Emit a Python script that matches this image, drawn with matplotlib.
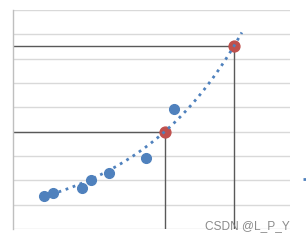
import numpy as np
import matplotlib
matplotlib.use("Agg")
from matplotlib import pyplot as plt

# --- data ---
x_obs = [1.13, 1.46, 2.48, 2.81, 3.47, 4.80, 5.81]
y_obs = [1.37, 1.49, 1.70, 2.01, 2.31, 2.93, 4.93]

x_pred = [5.48, 7.99]
y_pred = [4.00, 7.53]

# exponential trendline y = a * exp(b * x)
trend_a = 1.005
trend_b = 0.252
trend_x = [1.13, 8.27]

yticks = [0, 1, 2, 3, 4, 5, 6, 7, 8, 9]

BLUE = "#4F81BD"
RED = "#C0504D"
DARK = "#595959"

# ---------------------------------------------------------
fig = plt.figure(figsize=(3.06, 2.40), dpi=100)
ax = fig.add_axes([13 / 306, 11 / 240, 276.7 / 306, 219 / 240])

ax.set_xlim(0, 10)
ax.set_ylim(0, 9)
ax.set_yticks(yticks)
ax.set_xticks([])
ax.tick_params(left=False, labelleft=False)
ax.grid(axis="y", color="#D9D9D9", linewidth=1.0)
ax.set_axisbelow(True)
for side in ("top", "right", "bottom"):
    ax.spines[side].set_visible(False)
ax.spines["left"].set_color("#BFBFBF")
ax.spines["left"].set_linewidth(1.0)

# guide lines from predicted points to the axes
for xp, yp in zip(x_pred, y_pred):
    ax.plot([0, xp, xp], [yp, yp, 0], color=DARK, linewidth=1.0, zorder=2)

ax.plot(x_obs, y_obs, "o", color=BLUE, markersize=7.0, zorder=3)
ax.plot(x_pred, y_pred, "o", color=RED, markersize=7.8, zorder=3)

tx = np.linspace(trend_x[0], trend_x[1], 200)
trend, = ax.plot(tx, trend_a * np.exp(trend_b * tx), color=BLUE,
                 linewidth=2.0, linestyle=(0, (1, 1.7)), zorder=4)

# clipped legend: only the handle shows at the right edge
fig.legend([trend], [" "], loc="center left", frameon=False,
           bbox_to_anchor=(296 / 306, 60 / 240), handlelength=0.5,
           borderpad=0, handletextpad=0.2)

fig.text(205 / 306, 11 / 240, "CSDN @L_P_Y", fontsize=8.6,
         family="Liberation Sans", color="#7F7F7F", alpha=0.9)

fig.savefig("out.png", dpi=100)
